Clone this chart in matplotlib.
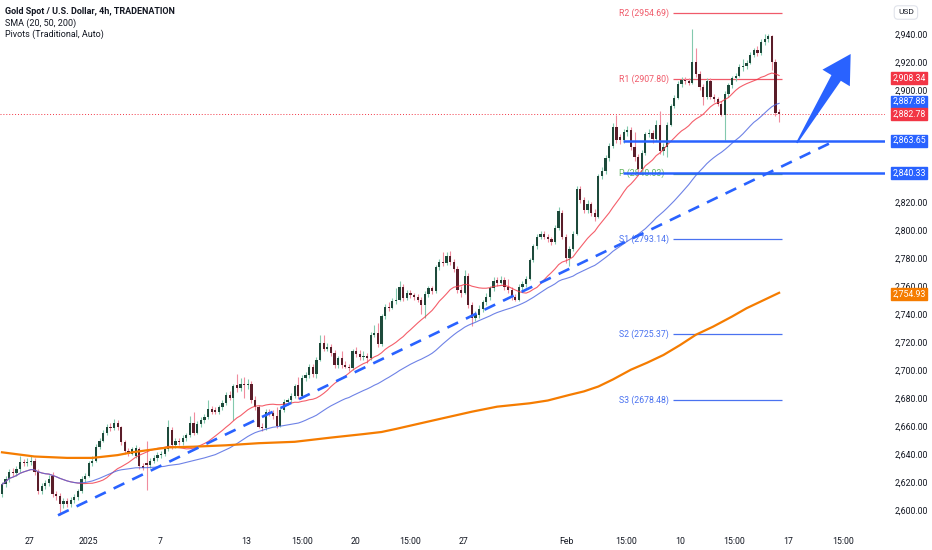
#!/usr/bin/env python3

# Gold spot / USD 4h chart with SMA 20/50/200, pivots and support lines.

import numpy as np
import pandas as pd
import matplotlib
matplotlib.use("Agg")
import matplotlib.pyplot as plt
from matplotlib.patches import Polygon
from matplotlib.transforms import IdentityTransform

plt.rcParams['font.family'] = ['Roboto', 'DejaVu Sans']

# ---- candle data (one row = 10 bars) ----
opens = [
    2611, 2618, 2622, 2627, 2626, 2629, 2634, 2633, 2634, 2635,
    2627, 2613, 2617, 2619, 2624, 2611, 2610, 2604, 2606, 2604,
    2607, 2609, 2613, 2622, 2624, 2633, 2635, 2645, 2649, 2655,
    2659, 2658, 2662, 2659, 2648, 2642, 2640, 2638, 2643, 2631,
    2633, 2632, 2635, 2637, 2639, 2640, 2643, 2657, 2646, 2649,
    2648, 2651, 2653, 2662, 2655, 2661, 2664, 2666, 2672, 2671,
    2670, 2673, 2676, 2682, 2680, 2689, 2687, 2690, 2689, 2690,
    2678, 2673, 2659, 2658, 2670, 2669, 2667, 2660, 2671, 2677,
    2678, 2681, 2689, 2681, 2694, 2696, 2702, 2697, 2707, 2719,
    2715, 2716, 2712, 2703, 2708, 2703, 2702, 2701, 2713, 2711,
    2709, 2710, 2708, 2725, 2726, 2718, 2738, 2745, 2744, 2749,
    2750, 2759, 2751, 2755, 2753, 2752, 2750, 2746, 2754, 2758,
    2756, 2773, 2777, 2776, 2781, 2777, 2772, 2757, 2755, 2767,
    2746, 2737, 2739, 2743, 2748, 2752, 2758, 2764, 2762, 2764,
    2759, 2757, 2752, 2750, 2759, 2761, 2765, 2778, 2788, 2795,
    2797, 2795, 2793, 2791, 2801, 2812, 2795, 2780, 2786, 2797,
    2829, 2821, 2814, 2818, 2812, 2809, 2838, 2842, 2851, 2860,
    2873, 2866, 2864, 2870, 2871, 2859, 2852, 2843, 2855, 2868,
    2869, 2865, 2875, 2856, 2859, 2875, 2888, 2894, 2904, 2907,
    2906, 2905, 2920, 2911, 2902, 2895, 2906, 2895, 2893, 2890,
    2882, 2897, 2903, 2908, 2910, 2916, 2917, 2919, 2925, 2928,
    2926, 2934, 2936, 2938, 2920, 2884,
]
highs = [
    2620, 2624, 2629, 2630, 2631, 2638, 2636, 2637, 2638, 2637,
    2629, 2619, 2621, 2625, 2627, 2613, 2612, 2608, 2608, 2609,
    2611, 2615, 2624, 2626, 2635, 2638, 2647, 2651, 2657, 2661,
    2662, 2665, 2664, 2660, 2650, 2644, 2645, 2646, 2645, 2633,
    2649, 2637, 2639, 2641, 2642, 2645, 2664, 2659, 2651, 2651,
    2653, 2655, 2667, 2670, 2663, 2666, 2668, 2678, 2674, 2673,
    2675, 2678, 2684, 2685, 2690, 2697, 2694, 2695, 2693, 2692,
    2681, 2675, 2662, 2672, 2672, 2671, 2673, 2673, 2679, 2680,
    2683, 2690, 2695, 2696, 2698, 2704, 2704, 2709, 2725, 2725,
    2719, 2718, 2714, 2710, 2713, 2706, 2704, 2715, 2716, 2714,
    2713, 2712, 2727, 2732, 2733, 2740, 2747, 2748, 2751, 2758,
    2763, 2761, 2757, 2757, 2755, 2754, 2752, 2756, 2760, 2760,
    2775, 2779, 2784, 2784, 2785, 2779, 2774, 2760, 2771, 2769,
    2748, 2742, 2746, 2750, 2755, 2760, 2766, 2766, 2767, 2766,
    2765, 2759, 2754, 2761, 2763, 2767, 2780, 2790, 2797, 2799,
    2799, 2797, 2795, 2803, 2816, 2814, 2797, 2788, 2799, 2831,
    2831, 2823, 2821, 2820, 2815, 2840, 2845, 2853, 2862, 2876,
    2882, 2868, 2872, 2874, 2873, 2870, 2854, 2857, 2870, 2872,
    2871, 2878, 2885, 2862, 2877, 2890, 2896, 2906, 2909, 2909,
    2908, 2943, 2930, 2913, 2904, 2908, 2908, 2897, 2895, 2892,
    2899, 2905, 2910, 2912, 2918, 2922, 2921, 2927, 2930, 2931,
    2936, 2940, 2940, 2939, 2922, 2886,
]
lows = [
    2609, 2616, 2620, 2624, 2624, 2627, 2631, 2631, 2632, 2625,
    2611, 2611, 2615, 2617, 2609, 2607, 2596, 2601, 2602, 2602,
    2605, 2607, 2612, 2620, 2623, 2631, 2634, 2643, 2648, 2653,
    2656, 2657, 2657, 2646, 2640, 2638, 2639, 2637, 2629, 2628,
    2614, 2630, 2633, 2635, 2637, 2638, 2642, 2643, 2644, 2646,
    2646, 2649, 2652, 2653, 2654, 2659, 2662, 2665, 2668, 2668,
    2668, 2671, 2675, 2678, 2664, 2684, 2685, 2680, 2686, 2676,
    2671, 2658, 2656, 2657, 2667, 2665, 2658, 2659, 2670, 2675,
    2676, 2680, 2679, 2680, 2692, 2694, 2695, 2694, 2706, 2713,
    2713, 2710, 2701, 2701, 2701, 2701, 2699, 2700, 2709, 2707,
    2707, 2705, 2707, 2723, 2716, 2717, 2736, 2742, 2743, 2747,
    2749, 2749, 2750, 2751, 2750, 2748, 2740, 2737, 2752, 2754,
    2755, 2771, 2774, 2775, 2775, 2770, 2755, 2752, 2754, 2744,
    2731, 2735, 2737, 2741, 2746, 2750, 2756, 2760, 2761, 2757,
    2755, 2750, 2749, 2749, 2757, 2759, 2764, 2777, 2786, 2793,
    2793, 2791, 2789, 2790, 2800, 2793, 2776, 2774, 2785, 2796,
    2819, 2812, 2812, 2810, 2806, 2808, 2836, 2840, 2849, 2858,
    2862, 2861, 2862, 2867, 2857, 2849, 2840, 2842, 2853, 2866,
    2862, 2863, 2854, 2853, 2852, 2874, 2887, 2893, 2902, 2904,
    2903, 2904, 2909, 2900, 2889, 2893, 2893, 2891, 2888, 2881,
    2864, 2895, 2901, 2906, 2909, 2913, 2915, 2918, 2923, 2924,
    2925, 2932, 2934, 2914, 2881, 2877,
]
closes = [
    2618, 2622, 2627, 2626, 2629, 2634, 2633, 2634, 2635, 2627,
    2613, 2617, 2619, 2622, 2611, 2610, 2604, 2606, 2604, 2607,
    2609, 2613, 2622, 2624, 2633, 2635, 2645, 2649, 2655, 2659,
    2658, 2662, 2659, 2648, 2642, 2640, 2643, 2644, 2631, 2630,
    2632, 2635, 2637, 2639, 2640, 2643, 2659, 2646, 2649, 2648,
    2651, 2653, 2662, 2655, 2661, 2664, 2666, 2672, 2670, 2670,
    2673, 2676, 2682, 2680, 2688, 2687, 2690, 2689, 2690, 2678,
    2673, 2659, 2658, 2670, 2669, 2667, 2660, 2671, 2677, 2678,
    2681, 2688, 2681, 2694, 2696, 2702, 2697, 2707, 2719, 2715,
    2716, 2712, 2703, 2708, 2703, 2702, 2701, 2713, 2711, 2709,
    2710, 2708, 2725, 2726, 2718, 2738, 2745, 2744, 2749, 2750,
    2759, 2751, 2755, 2753, 2752, 2750, 2746, 2754, 2758, 2756,
    2773, 2777, 2776, 2781, 2777, 2772, 2757, 2755, 2767, 2746,
    2737, 2739, 2743, 2748, 2752, 2758, 2763, 2762, 2764, 2759,
    2757, 2752, 2750, 2759, 2761, 2765, 2778, 2788, 2795, 2797,
    2795, 2793, 2791, 2801, 2813, 2795, 2780, 2786, 2797, 2829,
    2821, 2814, 2818, 2812, 2809, 2838, 2842, 2851, 2860, 2873,
    2864, 2864, 2870, 2871, 2859, 2852, 2843, 2855, 2868, 2869,
    2865, 2875, 2856, 2859, 2875, 2888, 2894, 2904, 2907, 2906,
    2905, 2920, 2911, 2902, 2895, 2906, 2895, 2893, 2890, 2882,
    2897, 2903, 2908, 2910, 2916, 2917, 2919, 2925, 2928, 2926,
    2934, 2936, 2938, 2920, 2883, 2882.78,
]

# SMA 200 (bar index, price)
sma200_bar = [0, 9, 18, 25, 32, 36, 46, 53, 62, 71, 81, 91, 100, 105, 109,
              118, 130, 137, 146, 151, 157, 161, 165, 169, 174, 178.5, 183,
              187.6, 192, 196.7, 202, 206, 215]
sma200_val = [2641, 2638, 2637, 2637, 2639, 2641, 2644.5, 2645, 2646,
              2647.5, 2648.5, 2651.5, 2654, 2655.5, 2657.7, 2663, 2670,
              2673.6, 2676, 2678, 2682, 2684.5, 2688, 2693, 2700, 2705,
              2710.5, 2717.6, 2725, 2730.7, 2738, 2743.9, 2754.93]

# pivots (Traditional)
pivot_names = ['R2', 'R1', 'P', 'S1', 'S2', 'S3']
pivot_levels = [2954.69, 2907.80, 2840.03, 2793.14, 2725.37, 2678.48]

# drawn support lines and last price
support_levels = [2863.65, 2840.33]
last_price = 2882.78

# price tags on the right scale
tag_values = [2908.34, 2887.88, 2882.78, 2863.65, 2840.33, 2754.93]
tag_colors = ['#f23645', '#2962ff', '#f23645', '#2962ff', '#2962ff', '#f57c00']

# time axis labels (bar index of the labelled bar)
x_tick_bars = [7.7, 24, 43.7, 67.5, 83, 97.7, 112.9, 127.6, 156.3,
               172.7, 187.6, 202.5, 217.5, 232.7]
x_tick_labels = ['27', '2025', '7', '13', '15:00', '20', '15:00', '27',
                 'Feb', '15:00', '10', '15:00', '17', '15:00']
y_ticks = list(range(2600, 2941, 20))
# scale labels hidden behind the price tags
y_hidden = [2880, 2860, 2840]

# hand drawn trend line and arrow (bar index, price)
trend_start = (15.5, 2596.0)
trend_end = (229.0, 2861.7)
arrow_tail = (219.9, 2862.0)
arrow_tip = (234.8, 2925.5)

# ---- figure ----
fig = plt.figure(figsize=(9.32, 5.5), dpi=100)
ax = fig.add_axes([0, 25 / 550, 885 / 932, 525 / 550])
ax.set_xlim(-0.55, 244.3)
ax.set_ylim(2589.07, 2964.07)

o = np.array(opens, dtype=float)
h = np.array(highs, dtype=float)
l = np.array(lows, dtype=float)
c = np.array(closes, dtype=float)
x = np.arange(len(c))
up = c >= o

text_col = '#131722'
up_body, up_wick = '#1d4a3b', '#83c9ae'
dn_body, dn_wick = '#5a1d29', '#f08c9e'

# wicks
ax.vlines(x[up], l[up], h[up], colors=up_wick, lw=0.8, zorder=2)
ax.vlines(x[~up], l[~up], h[~up], colors=dn_wick, lw=0.8, zorder=2)
# bodies
body_h = np.maximum(np.abs(c - o), 0.6)
body_b = np.minimum(o, c)
ax.bar(x[up], body_h[up], bottom=body_b[up], width=0.62, color=up_body,
       lw=0, zorder=3)
ax.bar(x[~up], body_h[~up], bottom=body_b[~up], width=0.62, color=dn_body,
       lw=0, zorder=3)

# moving averages
s = pd.Series(c)
ax.plot(x, s.rolling(20, min_periods=1).mean(), color='#f23645', lw=0.8,
        alpha=0.8, zorder=4)
ax.plot(x, s.rolling(50, min_periods=1).mean(), color='#4a63e0', lw=0.8,
        alpha=0.8, zorder=4)
ax.plot(sma200_bar, sma200_val, color='#f57c00', lw=1.6, zorder=4)

# last price dotted line
ax.axhline(last_price, color='#f23645', lw=0.7, ls=(0, (1, 2)), zorder=1)

# pivots
piv_cols = {'R': '#f05a6a', 'P': '#5fb35f', 'S': '#4a72f0'}
for name, lvl in zip(pivot_names, pivot_levels):
    col = piv_cols[name[0]]
    ax.hlines(lvl, 185.7, 215.8, colors=col, lw=0.9, zorder=1)
    ax.text(170.7, lvl, f"{name} ({lvl:.2f})", color=col, fontsize=6.3,
            va='center', ha='left', zorder=1)

# support lines
for lvl in support_levels:
    ax.hlines(lvl, 171.8, 244.3, colors='#2962ff', lw=1.8, zorder=5)

# trend line
ax.plot([trend_start[0], trend_end[0]], [trend_start[1], trend_end[1]],
        color='#2962ff', lw=1.9, dashes=[4.5, 3.3], zorder=5)

# arrow (built in pixel space so the head keeps its shape)
t0 = ax.transData.transform(arrow_tail)
t1 = ax.transData.transform(arrow_tip)
d = t1 - t0
u = d / np.hypot(*d)
n = np.array([-u[1], u[0]])
base = t1 - u * 28
pts = [t0 + n * 0.8, base + n * 5.5, base + n * 16, t1,
       base - n * 16, base - n * 5.5, t0 - n * 0.8]
fig.add_artist(Polygon(pts, closed=True, transform=IdentityTransform(),
                       color='#2962ff', lw=0, zorder=6))

# axes styling
for sp in ax.spines.values():
    sp.set_visible(False)
ax.yaxis.tick_right()
ax.set_yticks(y_ticks)
ax.set_yticklabels(['' if v in y_hidden else f"{v:,.2f}" for v in y_ticks])
ax.tick_params(axis='y', length=0, pad=7, labelsize=6.3, labelcolor=text_col)
ax.set_xticks(x_tick_bars)
ax.set_xticklabels(x_tick_labels)
ax.tick_params(axis='x', length=0, pad=9, labelsize=6.3, labelcolor=text_col)

# price tags
nudge = [0, 5, 0, 0, 0, -1.5]
for val, col, dy in zip(tag_values, tag_colors, nudge):
    ax.annotate(f"{val:,.2f}", xy=(1, val), xycoords=('axes fraction', 'data'),
                xytext=(24, dy), textcoords='offset pixels', ha='center',
                va='center', fontsize=6.3, color='white', annotation_clip=False,
                bbox=dict(boxstyle='square,pad=0.18', fc=col, ec=col),
                zorder=10)

# USD box
fig.text(898 / 932, 1 - 12.5 / 550, 'USD', fontsize=6, color=text_col,
         va='center', ha='left',
         bbox=dict(boxstyle='round,pad=0.45', fc='white', ec='#e0e3eb', lw=0.8))

# legend text
fig.text(5 / 932, 1 - 11 / 550, 'Gold Spot / U.S. Dollar, 4h, TRADENATION',
         fontsize=6.5, fontweight='bold', color=text_col, va='center')
fig.text(5 / 932, 1 - 23 / 550, 'SMA (20, 50, 200)', fontsize=6.5,
         color=text_col, va='center')
fig.text(5 / 932, 1 - 34 / 550, 'Pivots (Traditional, Auto)', fontsize=6.5,
         color=text_col, va='center')

fig.savefig('out.png', dpi=100)
plt.close(fig)
